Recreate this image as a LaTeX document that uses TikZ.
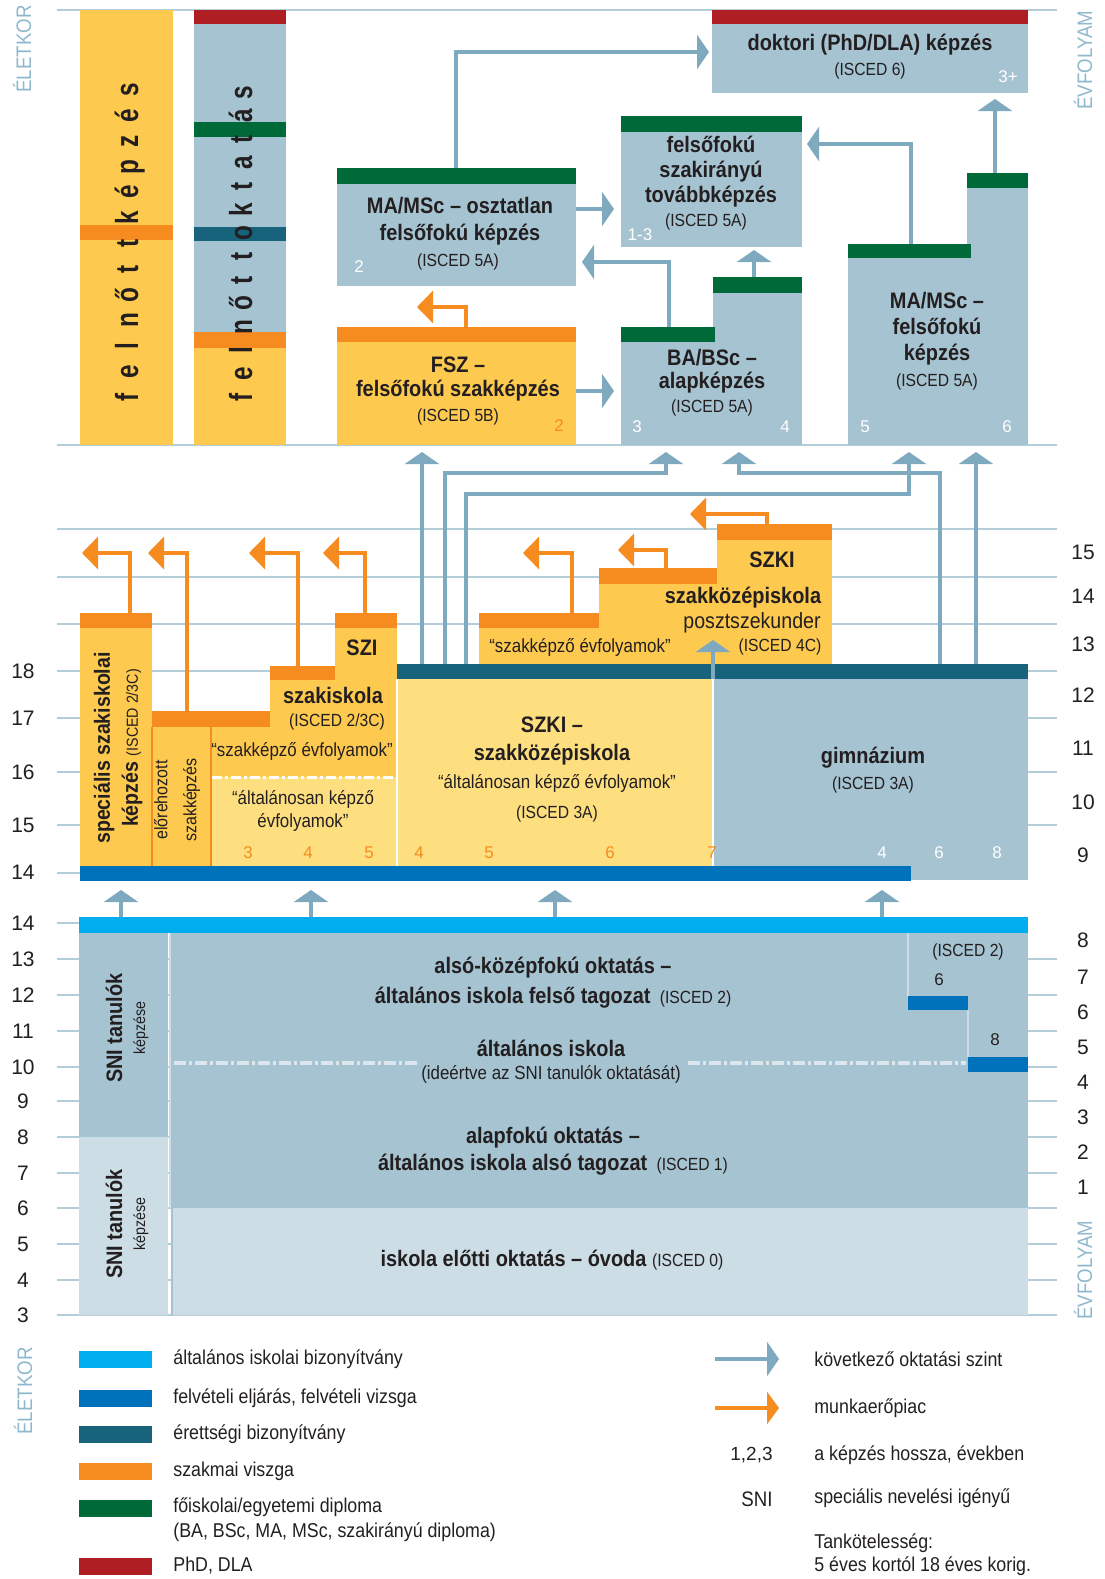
\documentclass[tikz,border=0pt]{standalone}
\usepackage{fontspec}
\setmainfont{Liberation Sans}[FakeStretch=0.89]
\newfontfamily\numfont{Liberation Sans}
\newfontfamily\condfont{Liberation Sans}[FakeStretch=0.76]
\usetikzlibrary{arrows.meta}

\definecolor{yel}{HTML}{FDC94F}
\definecolor{yellite}{HTML}{FEDF80}
\definecolor{org}{HTML}{F68B1F}
\definecolor{gry}{HTML}{A6C3D1}
\definecolor{grylite}{HTML}{CCDDE5}
\definecolor{phd}{HTML}{AE1E22}
\definecolor{dipl}{HTML}{00693A}
\definecolor{eretts}{HTML}{16637B}
\definecolor{felv}{HTML}{0072BC}
\definecolor{alt}{HTML}{00ADEE}
\definecolor{arw}{HTML}{7FA9BE}
\definecolor{axisc}{HTML}{8FB8CC}
\definecolor{gridc}{HTML}{B3CDD9}
\definecolor{txt}{HTML}{231F20}

\begin{document}
\begin{tikzpicture}[x=0.5pt,y=-0.5pt,
    grid line/.style={draw=gridc,line width=0.9pt},
    title/.style={font=\bfseries\fontsize{11.2}{13.5}\selectfont,text=txt,align=center,inner sep=0pt},
    isced/.style={font=\fontsize{8.8}{10.5}\selectfont,text=txt,inner sep=0pt},
    quoted/.style={font=\fontsize{9.5}{11.5}\selectfont,text=txt,align=center,inner sep=0pt},
    years/.style={font=\numfont\fontsize{8.5}{10}\selectfont,text=white,inner sep=0pt},
    age/.style={font=\numfont\fontsize{10.5}{12}\selectfont,text=txt,inner sep=0pt},
    axis name/.style={font=\fontsize{10.5}{12}\selectfont,text=axisc,rotate=90,inner sep=0pt},
    letter/.style={font=\condfont\bfseries\fontsize{16}{16}\selectfont,text=txt,rotate=90,anchor=base,inner sep=0pt},
    legend text/.style={font=\fontsize{10}{12.5}\selectfont,text=txt,anchor=west,align=left,inner sep=0pt},
    next arrow/.style={draw=arw,line width=1.6pt,-{Triangle[width=17pt,length=6pt]}},
    job arrow/.style={draw=org,line width=1.6pt,-{Triangle[width=16pt,length=8pt]}}]
  \useasboundingbox (0,0) rectangle (1104,1579);

  % grid
  \draw[grid line] (57,10) -- (1057,10);
  \draw[grid line] (57,445) -- (1057,445);
  \foreach \y in {529,577,624,671,718,772,825}
    \draw[grid line] (57,\y) -- (1057,\y);
  \draw[grid line] (57,873) -- (80,873);
  \draw[grid line] (57,923) -- (80,923);
  \foreach \y in {959,995,1031,1067,1101,1137,1173,1208,1244,1280,1315}
    \draw[grid line] (57,\y) -- (1057,\y);

  % adult education columns
  \fill[yel] (80,10) rectangle (173,445);
  \fill[org] (80,225) rectangle (173,240);
  \fill[gry] (194,24) rectangle (286,332);
  \fill[phd] (194,10) rectangle (286,24);
  \fill[dipl] (194,122) rectangle (286,137);
  \fill[eretts] (194,227) rectangle (286,241);
  \fill[org] (194,332) rectangle (286,348);
  \fill[yel] (194,348) rectangle (286,445);

  % higher education
  \fill[gry] (712,24) rectangle (1028,93);
  \fill[phd] (712,10) rectangle (1028,24);
  \fill[gry] (621,132) rectangle (802,247);
  \fill[dipl] (621,116) rectangle (802,132);
  \fill[gry] (337,184) rectangle (576,286);
  \fill[dipl] (337,168) rectangle (576,184);
  \fill[yel] (337,342) rectangle (576,445);
  \fill[org] (337,327) rectangle (576,342);
  \fill[gry] (621,342) rectangle (713,445);
  \fill[gry] (713,293) rectangle (802,445);
  \fill[dipl] (621,327) rectangle (715,342);
  \fill[dipl] (713,277) rectangle (802,293);
  \fill[gry] (848,258) rectangle (967,445);
  \fill[gry] (967,188) rectangle (1028,445);
  \fill[dipl] (848,244) rectangle (971,258);
  \fill[dipl] (967,173) rectangle (1028,188);

  % secondary education
  \fill[yel] (80,628) rectangle (152,866);
  \fill[org] (80,613) rectangle (152,628);
  \fill[yel] (152,727) rectangle (210,866);
  \fill[org] (152,711) rectangle (270,727);
  \fill[yel] (210,727) rectangle (270,777);
  \fill[yel] (270,680) rectangle (335,777);
  \fill[yel] (335,628) rectangle (397,777);
  \fill[yellite] (210,777) rectangle (397,866);
  \fill[org] (270,666) rectangle (335,680);
  \fill[org] (335,613) rectangle (397,628);
  \draw[org,line width=1pt] (152,727) -- (152,866);
  \draw[org,line width=1pt] (211,718) -- (211,866);
  \draw[white,line width=1.5pt,dash pattern=on 5pt off 1.5pt on 1.5pt off 1.5pt] (212,777) -- (397,777);
  \fill[yellite] (397,679) rectangle (713,866);
  \fill[yel] (479,628) rectangle (599,664);
  \fill[yel] (599,584) rectangle (717,664);
  \fill[yel] (717,540) rectangle (832,664);
  \fill[org] (479,613) rectangle (599,628);
  \fill[org] (599,568) rectangle (717,584);
  \fill[org] (717,524) rectangle (832,540);
  \fill[gry] (713,679) rectangle (1028,880);
  \fill[eretts] (397,664) rectangle (1028,679);
  \draw[white,line width=1pt] (397,679) -- (397,866);
  \draw[white,line width=1.2pt] (713,679) -- (713,866);
  \fill[felv] (80,866) rectangle (911,881);

  % primary education
  \fill[alt] (79,917) rectangle (1028,933);
  \fill[gry] (79,933) rectangle (168,1137);
  \fill[grylite] (79,1137) rectangle (168,1315);
  \fill[gry] (171,933) rectangle (1028,1208);
  \fill[grylite] (171,1208) rectangle (1028,1315);
  \draw[grylite,line width=1pt] (170,933) -- (170,1208);
  \draw[gry,line width=1pt] (172,1208) -- (172,1315);
  \draw[grylite,line width=1pt] (908,933) -- (908,997);
  \draw[grylite,line width=1pt] (968,1010) -- (968,1057);
  \fill[felv] (908,996) rectangle (968,1010);
  \fill[felv] (968,1057) rectangle (1028,1072);
  \draw[grylite!70!white,line width=1.6pt,dash pattern=on 6pt off 1.5pt on 1.5pt off 1.5pt] (174,1063) -- (418,1063);
  \draw[grylite!70!white,line width=1.6pt,dash pattern=on 6pt off 1.5pt on 1.5pt off 1.5pt] (688,1063) -- (966,1063);

  % next level arrows
  \coordinate (ma osz out) at (456,168);
  \coordinate (dok in) at (709,52);
  \draw[next arrow] (ma osz out) |- (dok in);
  \coordinate (ma osz right) at (576,209);
  \coordinate (szakir left) at (614,209);
  \draw[next arrow] (ma osz right) -- (szakir left);
  \coordinate (fsz right) at (576,391);
  \coordinate (ba left) at (614,391);
  \draw[next arrow] (fsz right) -- (ba left);
  \coordinate (ba out) at (669,327);
  \coordinate (ma osz in) at (582,262);
  \draw[next arrow] (ba out) |- (ma osz in);
  \coordinate (ba out 2) at (754,277);
  \coordinate (szakir in) at (754,250);
  \draw[next arrow] (ba out 2) -- (szakir in);
  \coordinate (ma out) at (911,244);
  \coordinate (szakir in 2) at (807,144);
  \draw[next arrow] (ma out) |- (szakir in 2);
  \coordinate (ma out 2) at (995,173);
  \coordinate (dok in 2) at (995,99);
  \draw[next arrow] (ma out 2) -- (dok in 2);
  \coordinate (szki out 1) at (422,664);
  \coordinate (fsz in) at (422,452);
  \draw[next arrow] (szki out 1) -- (fsz in);
  \coordinate (szki out 2) at (445,664);
  \coordinate (ba in 1) at (666,452);
  \draw[next arrow] (szki out 2) |- (666,473) -- (ba in 1);
  \coordinate (szki out 3) at (466,664);
  \coordinate (ma in) at (909,452);
  \draw[next arrow] (szki out 3) |- (909,494) -- (ma in);
  \coordinate (gimn out 1) at (940,664);
  \coordinate (ba in 2) at (739,452);
  \draw[next arrow] (gimn out 1) |- (739,473) -- (ba in 2);
  \coordinate (gimn out 2) at (976,664);
  \coordinate (ma in 2) at (976,452);
  \draw[next arrow] (gimn out 2) -- (ma in 2);
  \coordinate (szki out 4) at (713,679);
  \coordinate (poszt in) at (713,640);
  \draw[next arrow] (szki out 4) -- (poszt in);
  \foreach \x [count=\i] in {121,311,555,882} {
    \coordinate (alt out \i) at (\x,917);
    \coordinate (felv in \i) at (\x,890);
    \draw[next arrow] (alt out \i) -- (felv in \i);
  }

  % labour market arrows
  \coordinate (fsz out) at (466,327);
  \coordinate (fsz job) at (417,307);
  \draw[job arrow] (fsz out) |- (fsz job);
  \coordinate (spec out) at (130,613);
  \coordinate (spec job) at (82,553);
  \draw[job arrow] (spec out) |- (spec job);
  \coordinate (elore out) at (187,711);
  \coordinate (elore job) at (148,553);
  \draw[job arrow] (elore out) |- (elore job);
  \coordinate (szakisk out) at (298,666);
  \coordinate (szakisk job) at (249,553);
  \draw[job arrow] (szakisk out) |- (szakisk job);
  \coordinate (szi out) at (365,613);
  \coordinate (szi job) at (323,553);
  \draw[job arrow] (szi out) |- (szi job);
  \coordinate (poszt out 1) at (572,613);
  \coordinate (poszt job 1) at (523,553);
  \draw[job arrow] (poszt out 1) |- (poszt job 1);
  \coordinate (poszt out 2) at (666,568);
  \coordinate (poszt job 2) at (618,550);
  \draw[job arrow] (poszt out 2) |- (poszt job 2);
  \coordinate (poszt out 3) at (767,524);
  \coordinate (poszt job 3) at (690,514);
  \draw[job arrow] (poszt out 3) |- (poszt job 3);

  % axis names
  \node[axis name] (eletkor top) at (22,49) {ÉLETKOR};
  \node[axis name] (evfolyam top) at (1083,60) {ÉVFOLYAM};
  \node[axis name] (evfolyam bottom) at (1083,1270) {ÉVFOLYAM};
  \node[axis name] (eletkor bottom) at (23,1391) {ÉLETKOR};

  % adult education letters
  \foreach \c [count=\i] in {f,e,l,n,ő,t,t,k,é,p,z,é,s}
    \node[letter] (felnott kepzes \i) at (138,{397-25.6*(\i-1)}) {\c};
  \foreach \c [count=\i] in {f,e,l,n,ő,t,t,o,k,t,a,t,á,s}
    \node[letter] (felnott oktatas \i) at (252,{397-23.4*(\i-1)}) {\c};

  % higher education texts
  \node[title] (dok title) at (870,45) {doktori (PhD/DLA) képzés};
  \node[isced] (dok isced) at (870,71) {(ISCED 6)};
  \node[years] (dok years) at (1008,77) {3+};
  \node[title,font=\bfseries\fontsize{11.2}{12.5}\selectfont] (szakir title) at (711,172) {felsőfokú\\szakirányú\\továbbképzés};
  \node[isced] (szakir isced) at (706,222) {(ISCED 5A)};
  \node[years] (szakir years) at (640,235) {1-3};
  \node[title] (ma osz title) at (460,221) {MA/MSc -- osztatlan\\felsőfokú képzés};
  \node[isced] (ma osz isced) at (458,262) {(ISCED 5A)};
  \node[years] (ma osz years) at (359,267) {2};
  \node[title,font=\bfseries\fontsize{11.2}{12}\selectfont] (fsz title) at (458,379) {FSZ --\\felsőfokú szakképzés};
  \node[isced] (fsz isced) at (458,417) {(ISCED 5B)};
  \node[years,text=org] (fsz years) at (559,426) {2};
  \node[title,font=\bfseries\fontsize{11.2}{11.5}\selectfont] (ba title) at (712,371) {BA/BSc --\\alapképzés};
  \node[isced] (ba isced) at (712,408) {(ISCED 5A)};
  \node[years] (ba years 1) at (637,427) {3};
  \node[years] (ba years 2) at (785,427) {4};
  \node[title,font=\bfseries\fontsize{11.2}{13}\selectfont] (ma title) at (937,329) {MA/MSc --\\felsőfokú\\képzés};
  \node[isced] (ma isced) at (937,382) {(ISCED 5A)};
  \node[years] (ma years 1) at (865,427) {5};
  \node[years] (ma years 2) at (1007,427) {6};

  % secondary education texts
  \node[title,rotate=90,font=\bfseries\fontsize{11}{14}\selectfont] (spec title) at (118,748) {speciális szakiskolai\\képzés {\mdseries\fontsize{8}{10}\selectfont(ISCED 2/3C)}};
  \node[quoted,rotate=90,font=\fontsize{9}{14.5}\selectfont] (elore title) at (177,800) {előrehozott\\szakképzés};
  \node[title] (szi title) at (362,648) {SZI};
  \node[title] (szakisk title) at (333,695) {szakiskola};
  \node[isced] (szakisk isced) at (337,722) {(ISCED 2/3C)};
  \node[quoted] (szakisk upper) at (302,751) {“szakképző évfolyamok”};
  \node[quoted] (szakisk lower) at (303,811) {“általánosan képző\\évfolyamok”};
  \node[years,text=org] (szakisk years 1) at (248,853) {3};
  \node[years,text=org] (szakisk years 2) at (308,853) {4};
  \node[years,text=org] (szakisk years 3) at (369,853) {5};
  \node[title,font=\bfseries\fontsize{11.2}{14}\selectfont] (szki title) at (552,741) {SZKI --\\szakközépiskola};
  \node[quoted] (szki quoted) at (557,783) {“általánosan képző évfolyamok”};
  \node[isced] (szki isced) at (557,814) {(ISCED 3A)};
  \node[years,text=org] (szki years 1) at (419,853) {4};
  \node[years,text=org] (szki years 2) at (489,853) {5};
  \node[years,text=org] (szki years 3) at (610,853) {6};
  \node[years,text=org] (szki years 4) at (712,853) {7};
  \node[quoted] (poszt quoted) at (580,647) {“szakképző évfolyamok”};
  \node[title] (poszt szki) at (772,560) {SZKI};
  \node[title] (poszt title) at (743,598) {szakközépiskola};
  \node[quoted,font=\fontsize{11}{13}\selectfont] (poszt name) at (752,623) {posztszekunder};
  \node[isced] (poszt isced) at (780,647) {(ISCED 4C)};
  \node[title] (gimn title) at (873,758) {gimnázium};
  \node[isced] (gimn isced) at (873,785) {(ISCED 3A)};
  \node[years] (gimn years 1) at (882,853) {4};
  \node[years] (gimn years 2) at (939,853) {6};
  \node[years] (gimn years 3) at (997,853) {8};

  % primary education texts
  \node[title,rotate=90,font=\fontsize{8}{11.5}\selectfont] (sni upper) at (127,1028) {{\bfseries\fontsize{11.2}{13}\selectfont SNI tanulók}\\képzése};
  \node[title,rotate=90,font=\fontsize{8}{11.5}\selectfont] (sni lower) at (127,1224) {{\bfseries\fontsize{11.2}{13}\selectfont SNI tanulók}\\képzése};
  \node[title,font=\bfseries\fontsize{11.2}{15}\selectfont] (also kozep) at (553,983) {alsó-középfokú oktatás --\\általános iskola felső tagozat\ \,{\mdseries\fontsize{8.8}{10}\selectfont(ISCED 2)}};
  \node[title,font=\bfseries\fontsize{11.2}{11.5}\selectfont] (alt isk) at (551,1062) {általános iskola\\{\mdseries\fontsize{9.5}{10}\selectfont(ideértve az SNI tanulók oktatását)}};
  \node[title] (alapfok) at (553,1151) {alapfokú oktatás --\\általános iskola alsó tagozat\ \,{\mdseries\fontsize{8.8}{10}\selectfont(ISCED 1)}};
  \node[title] (ovoda) at (552,1260) {iskola előtti oktatás -- óvoda {\mdseries\fontsize{8.8}{10}\selectfont(ISCED 0)}};
  \node[isced] (felso isced) at (968,952) {(ISCED 2)};
  \node[years,text=txt] (felso six) at (939,980) {6};
  \node[years,text=txt] (felso eight) at (995,1040) {8};

  % ages and grades
  \foreach \a/\y in {18/671,17/718,16/772,15/825,14/872,14/923,13/959,12/995,11/1031,10/1067,9/1101,8/1137,7/1173,6/1208,5/1244,4/1280,3/1315}
    \node[age] (age \a-\y) at (23,\y) {\a};
  \foreach \g/\y in {15/552,14/596,13/644,12/695,11/748,10/802,9/855,8/940,7/977,6/1012,5/1047,4/1082,3/1117,2/1152,1/1187}
    \node[age] (grade \g-\y) at (1083,\y) {\g};

  % legend
  \foreach \col/\y/\lbl [count=\i] in {alt/1359/általános iskolai bizonyítvány,felv/1398/{felvételi eljárás, felvételi vizsga},eretts/1434/érettségi bizonyítvány,org/1471/szakmai viszga,phd/1566/{PhD, DLA}} {
    \fill[\col] (79,\y-8.5) rectangle (152,\y+8.5);
    \node[legend text] (legend \i) at (173,\y) {\lbl};
  }
  \fill[dipl] (79,1499.5) rectangle (152,1516.5);
  \node[legend text] (legend dipl) at (173,1520) {főiskolai/egyetemi diploma\\(BA, BSc, MA, MSc, szakirányú diploma)};
  \coordinate (key next start) at (715,1359);
  \coordinate (key next end) at (779,1359);
  \draw[next arrow] (key next start) -- (key next end);
  \coordinate (key job start) at (715,1408);
  \coordinate (key job end) at (779,1408);
  \draw[job arrow,-{Triangle[width=16pt,length=6pt]}] (key job start) -- (key job end);
  \node[legend text] (key next) at (814,1359) {következő oktatási szint};
  \node[legend text] (key job) at (814,1408) {munkaerőpiac};
  \node[legend text] (key years) at (814,1455) {a képzés hossza, években};
  \node[legend text] (key sni) at (814,1498) {speciális nevelési igényű};
  \node[legend text,font=\fontsize{10}{11.5}\selectfont] (key duty) at (814,1555) {Tankötelesség:\\5 éves kortól 18 éves korig.};
  \node[age,anchor=east,font=\numfont\fontsize{9.5}{11}\selectfont] (key years sample) at (773,1455) {1,2,3};
  \node[age,anchor=east,font=\fontsize{10.5}{12}\selectfont] (key sni sample) at (773,1499) {SNI};
\end{tikzpicture}
\end{document}
